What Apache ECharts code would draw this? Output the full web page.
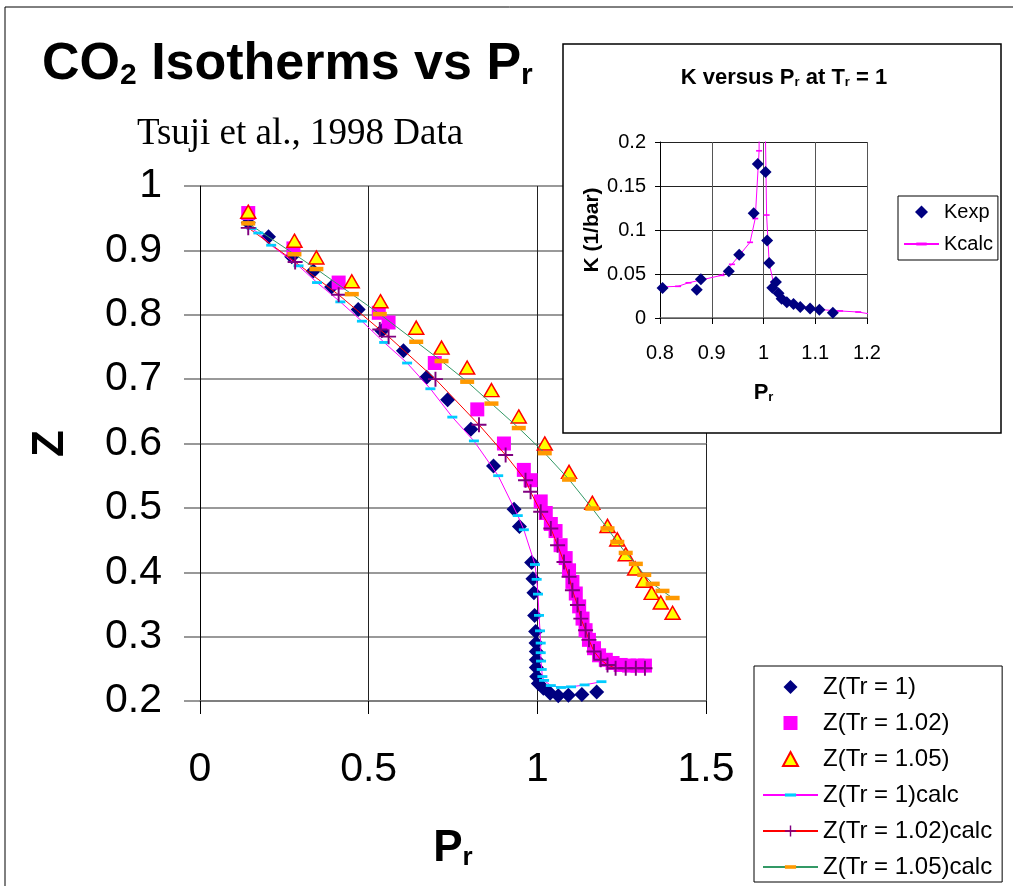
<!DOCTYPE html>
<html>
<head>
<meta charset="utf-8">
<script src="https://cdn.jsdelivr.net/npm/echarts@6/dist/echarts.min.js"></script>
<style>
  html, body { margin: 0; padding: 0; background: #fff; }
  #chart { width: 1013px; height: 886px; }
</style>
</head>
<body>
<div id="chart"></div>
<script>
// experimental Z vs Pr (Tsuji et al.)
var zTr100 = [[0.143,0.943],[0.203,0.921],[0.272,0.890],[0.336,0.868],[0.390,0.843],[0.469,0.808],[0.539,0.775],[0.603,0.744],[0.672,0.703],[0.734,0.668],[0.803,0.622],[0.870,0.565],[0.931,0.498],[0.947,0.471],[0.983,0.415],[0.987,0.390],[0.990,0.368],[0.992,0.333],[0.995,0.308],[0.996,0.290],[0.997,0.277],[0.997,0.264],[0.997,0.252],[0.998,0.238],[1.003,0.227],[1.018,0.220],[1.038,0.212],[1.062,0.208],[1.092,0.209],[1.132,0.210],[1.176,0.214]];
var zTr102 = [[0.143,0.958],[0.277,0.903],[0.411,0.850],[0.530,0.803],[0.559,0.788],[0.696,0.725],[0.822,0.653],[0.901,0.600],[0.960,0.559],[0.980,0.543],[1.010,0.510],[1.025,0.492],[1.040,0.475],[1.054,0.464],[1.069,0.442],[1.084,0.422],[1.094,0.403],[1.104,0.385],[1.114,0.367],[1.124,0.347],[1.134,0.328],[1.143,0.310],[1.153,0.295],[1.168,0.282],[1.183,0.271],[1.203,0.264],[1.223,0.259],[1.247,0.256],[1.272,0.255],[1.297,0.255],[1.319,0.255]];
var zTr105 = [[0.143,0.960],[0.280,0.915],[0.345,0.889],[0.450,0.852],[0.535,0.821],[0.641,0.780],[0.716,0.749],[0.792,0.718],[0.864,0.683],[0.945,0.642],[1.022,0.600],[1.094,0.556],[1.163,0.508],[1.208,0.472],[1.237,0.451],[1.262,0.428],[1.290,0.406],[1.315,0.387],[1.339,0.368],[1.366,0.353],[1.401,0.337]];

// calculated isotherms
var zTr100calc = [[0.153,0.934],[0.173,0.927],[0.211,0.908],[0.292,0.876],[0.347,0.850],[0.416,0.820],[0.480,0.790],[0.546,0.757],[0.614,0.725],[0.683,0.685],[0.748,0.641],[0.812,0.604],[0.884,0.550],[0.942,0.488],[0.960,0.466],[0.993,0.412],[0.998,0.389],[1.002,0.366],[1.005,0.333],[1.008,0.309],[1.010,0.290],[1.010,0.275],[1.011,0.262],[1.013,0.249],[1.015,0.238],[1.020,0.232],[1.040,0.224],[1.070,0.221],[1.100,0.222],[1.140,0.225],[1.190,0.230]];
var zTr102calc = [[0.143,0.935],[0.282,0.882],[0.411,0.831],[0.533,0.777],[0.559,0.766],[0.698,0.700],[0.827,0.629],[0.906,0.582],[0.965,0.543],[0.980,0.525],[1.010,0.494],[1.040,0.468],[1.060,0.442],[1.079,0.416],[1.094,0.393],[1.104,0.372],[1.119,0.349],[1.129,0.328],[1.143,0.310],[1.153,0.295],[1.168,0.277],[1.188,0.264],[1.208,0.256],[1.232,0.251],[1.262,0.251],[1.292,0.251],[1.319,0.251]];
var zTr105calc = [[0.143,0.942],[0.280,0.894],[0.345,0.871],[0.450,0.832],[0.533,0.801],[0.641,0.758],[0.716,0.728],[0.792,0.696],[0.864,0.662],[0.945,0.624],[1.022,0.585],[1.094,0.544],[1.163,0.499],[1.208,0.468],[1.237,0.447],[1.262,0.430],[1.292,0.413],[1.317,0.396],[1.342,0.382],[1.371,0.371],[1.401,0.360]];

// inset: K vs Pr at Tr = 1
var kExp = [[0.805,0.034],[0.871,0.032],[0.879,0.044],[0.933,0.053],[0.953,0.072],[0.981,0.119],[0.989,0.175],[1.004,0.166],[1.007,0.088],[1.011,0.0625],[1.017,0.0345],[1.024,0.041],[1.029,0.028],[1.035,0.022],[1.045,0.018],[1.058,0.016],[1.071,0.0125],[1.090,0.0107],[1.108,0.0095],[1.134,0.006]];
var kCalc = [[0.79,0.035],[0.835,0.036],[0.855,0.040],[0.919,0.0485],[0.939,0.061],[0.974,0.086],[0.984,0.113],[0.9915,0.190],[0.992,0.40],[0.999,0.40],[1.006,0.117],[1.011,0.062],[1.019,0.041],[1.030,0.028],[1.045,0.019],[1.060,0.015],[1.080,0.012],[1.110,0.0095],[1.148,0.008],[1.183,0.0068],[1.212,0.004]];

var SANS = 'Liberation Sans, Arial, sans-serif';
// path symbols so legend icons keep their shape
var diamondP = 'path://M5,0L10,5L5,10L0,5Z';
var squareP = 'path://M0,0H10V10H0Z';
var triangleP = 'path://M7.5,0L15,14H0Z';
var dashP = 'path://M0,0L0,0M10,10L10,10M0,3.6H10V6.4H0Z';
var dashThickP = 'path://M0,0L0,0M10,10L10,10M0,3.4H10V6.6H0Z';
var plusP = 'path://M6.1,0H7.9V6.1H14V7.9H7.9V14H6.1V7.9H0V6.1H6.1Z';

var myChart = echarts.init(document.getElementById('chart'));
var option = {
  backgroundColor: '#fff',
  animation: false,
  textStyle: { fontFamily: SANS },
  graphic: [
    { type: 'rect', z: 1, shape: { x: 5, y: 7, width: 1020, height: 900 },
      style: { fill: 'none', stroke: '#000', lineWidth: 1 } },
    { type: 'rect', z: 50, shape: { x: 563, y: 44, width: 438, height: 389 },
      style: { fill: '#fff', stroke: '#000', lineWidth: 1.5 } }
  ],
  title: [
    {
      left: 37, top: 34,
      text: '{b|CO}{s|2}{b| Isotherms vs P}{s|r}',
      textStyle: { rich: {
        b: { fontSize: 52, fontWeight: 'bold', fontFamily: SANS, color: '#000' },
        s: { fontSize: 30, fontWeight: 'bold', fontFamily: SANS, color: '#000', verticalAlign: 'bottom' }
      } }
    },
    {
      left: 295, top: 111, textAlign: 'center',
      text: 'Tsuji et al., 1998 Data',
      textStyle: { fontSize: 37, fontWeight: 'normal', fontFamily: 'Liberation Serif, Times New Roman, serif', color: '#000' }
    },
    {
      left: 779, top: 62, textAlign: 'center', z: 70,
      text: '{b|K versus P}{s|r}{b| at T}{s|r}{b| = 1}',
      textStyle: { rich: {
        b: { fontSize: 22, fontWeight: 'bold', fontFamily: SANS, color: '#000' },
        s: { fontSize: 13, fontWeight: 'bold', fontFamily: SANS, color: '#000', verticalAlign: 'bottom' }
      } }
    }
  ],
  legend: [
    {
      left: 754, top: 666, orient: 'vertical', selectedMode: false, symbolKeepAspect: true,
      padding: [9, 10, 3, 8], itemGap: 12, itemWidth: 55, itemHeight: 14,
      borderColor: '#000', borderWidth: 1, backgroundColor: '#fff',
      textStyle: { fontSize: 24, lineHeight: 24, color: '#000', fontFamily: SANS },
      data: ['Z(Tr = 1)', 'Z(Tr = 1.02)', 'Z(Tr = 1.05)', 'Z(Tr = 1)calc', 'Z(Tr = 1.02)calc', 'Z(Tr = 1.05)calc']
    },
    {
      left: 898, top: 196, orient: 'vertical', selectedMode: false, z: 70, symbolKeepAspect: true,
      padding: [5, 5, 5, 5], itemGap: 10, itemWidth: 35, itemHeight: 13,
      borderColor: '#000', borderWidth: 1, backgroundColor: '#fff',
      textStyle: { fontSize: 20, lineHeight: 22, color: '#000', fontFamily: SANS },
      data: ['Kexp', 'Kcalc']
    }
  ],
  grid: [
    { left: 200, top: 186, width: 506, height: 515, show: false },
    { left: 660, top: 142, width: 207, height: 176, show: false, z: 60 }
  ],
  xAxis: [
    {
      gridIndex: 0, type: 'value', min: 0, max: 1.5, interval: 0.5,
      name: '{b|P}{s|r}', nameLocation: 'middle', nameGap: 126,
      nameTextStyle: { rich: {
        b: { fontSize: 44, fontWeight: 'bold', fontFamily: SANS, color: '#000' },
        s: { fontSize: 26, fontWeight: 'bold', fontFamily: SANS, color: '#000', verticalAlign: 'bottom' }
      } },
      axisLine: { show: true, onZero: false, lineStyle: { color: '#777', width: 1.5 } },
      axisTick: { show: true, length: 13, lineStyle: { color: '#000', width: 1 } },
      axisLabel: { fontSize: 41, color: '#000', margin: 48, fontFamily: SANS },
      splitLine: { show: true, lineStyle: { color: '#222', width: 1 } }
    },
    {
      gridIndex: 1, type: 'value', min: 0.8, max: 1.2, interval: 0.1, z: 60,
      name: '{b|P}{s|r}', nameLocation: 'middle', nameGap: 64,
      nameTextStyle: { rich: {
        b: { fontSize: 22, fontWeight: 'bold', fontFamily: SANS, color: '#000' },
        s: { fontSize: 13, fontWeight: 'bold', fontFamily: SANS, color: '#000', verticalAlign: 'bottom' }
      } },
      axisLine: { show: true, onZero: false, lineStyle: { color: '#666', width: 1.5 } },
      axisTick: { show: true, length: 6, lineStyle: { color: '#000' } },
      axisLabel: { fontSize: 20, color: '#000', margin: 25, fontFamily: SANS },
      splitLine: { show: true, lineStyle: { color: '#555', width: 1 } }
    }
  ],
  yAxis: [
    {
      gridIndex: 0, type: 'value', min: 0.2, max: 1, interval: 0.1,
      name: 'Z', nameLocation: 'middle', nameGap: 127, nameRotate: 90,
      nameTextStyle: { fontSize: 44, fontWeight: 'bold', color: '#000', fontFamily: SANS },
      axisLine: { show: true, onZero: false, lineStyle: { color: '#000', width: 1 } },
      axisTick: { show: true, length: 16, lineStyle: { color: '#777', width: 1.5 } },
      axisLabel: { fontSize: 41, color: '#000', margin: 38, fontFamily: SANS },
      splitLine: { show: true, lineStyle: { color: '#777', width: 1.5 } }
    },
    {
      gridIndex: 1, type: 'value', min: 0, max: 0.2, interval: 0.05, z: 60,
      name: 'K (1/bar)', nameLocation: 'middle', nameGap: 56, nameRotate: 90,
      nameTextStyle: { fontSize: 21, fontWeight: 'bold', color: '#000', fontFamily: SANS },
      axisLine: { show: true, onZero: false, lineStyle: { color: '#000', width: 1 } },
      axisTick: { show: true, length: 5, lineStyle: { color: '#000' } },
      axisLabel: { fontSize: 20, color: '#000', margin: 14, fontFamily: SANS },
      splitLine: { show: true, lineStyle: { color: '#222', width: 1 } }
    }
  ],
  series: [
    {
      name: 'Z(Tr = 1)', type: 'scatter', data: zTr100, xAxisIndex: 0, yAxisIndex: 0,
      symbol: diamondP, symbolSize: 15, symbolKeepAspect: true, itemStyle: { color: '#000080', opacity: 1 }
    },
    {
      name: 'Z(Tr = 1.02)', type: 'scatter', data: zTr102, xAxisIndex: 0, yAxisIndex: 0,
      symbol: squareP, symbolSize: 14, symbolKeepAspect: true, itemStyle: { color: '#ff00ff', opacity: 1 }
    },
    {
      name: 'Z(Tr = 1.05)', type: 'scatter', data: zTr105, xAxisIndex: 0, yAxisIndex: 0,
      symbol: triangleP, symbolSize: [15, 14], symbolKeepAspect: true,
      itemStyle: { color: '#ffff00', borderColor: '#ff0000', borderWidth: 1.5, opacity: 1 }
    },
    {
      name: 'Z(Tr = 1)calc', type: 'line', data: zTr100calc, xAxisIndex: 0, yAxisIndex: 0,
      symbol: dashP, symbolSize: 10, symbolKeepAspect: true, showAllSymbol: true,
      lineStyle: { color: '#ff00ff', width: 1 }, itemStyle: { color: '#00ccff' }
    },
    {
      name: 'Z(Tr = 1.02)calc', type: 'line', data: zTr102calc, xAxisIndex: 0, yAxisIndex: 0,
      symbol: plusP, symbolSize: 15, symbolKeepAspect: true, showAllSymbol: true,
      lineStyle: { color: '#ff0000', width: 1 }, itemStyle: { color: '#800080' }
    },
    {
      name: 'Z(Tr = 1.05)calc', type: 'line', data: zTr105calc, xAxisIndex: 0, yAxisIndex: 0,
      symbol: dashThickP, symbolSize: 14, symbolKeepAspect: true, showAllSymbol: true,
      lineStyle: { color: '#339966', width: 1 }, itemStyle: { color: '#ff9900' }
    },
    {
      name: 'Kcalc', type: 'line', data: kCalc, xAxisIndex: 1, yAxisIndex: 1, z: 70,
      symbol: dashP, symbolSize: 6, symbolKeepAspect: true, showAllSymbol: true,
      lineStyle: { color: '#ff00ff', width: 1 }, itemStyle: { color: '#ff00ff' }
    },
    {
      name: 'Kexp', type: 'scatter', data: kExp, xAxisIndex: 1, yAxisIndex: 1, z: 71,
      symbol: diamondP, symbolSize: 12, symbolKeepAspect: true, itemStyle: { color: '#000080', opacity: 1 }
    }
  ]
};
option && myChart.setOption(option);
</script>
</body>
</html>
